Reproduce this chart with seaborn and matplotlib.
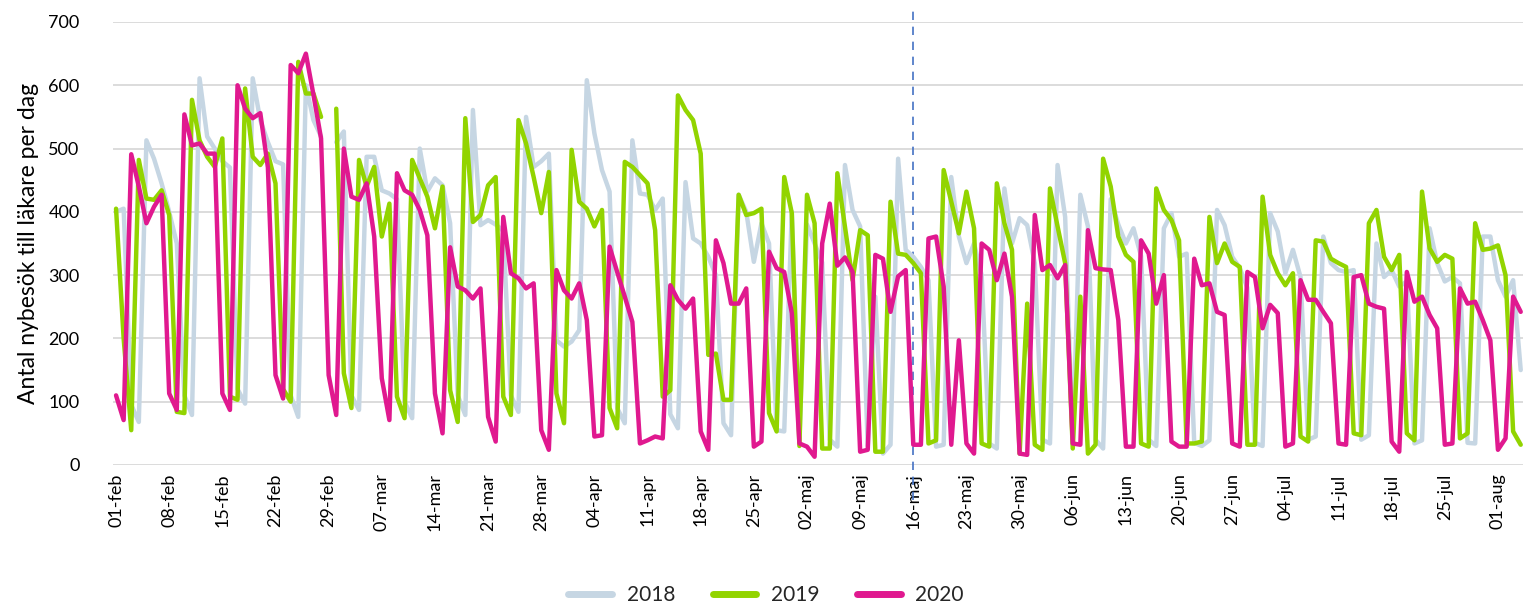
import numpy as np
import pandas as pd
import matplotlib
matplotlib.use("Agg")
import matplotlib.pyplot as plt
import seaborn as sns

# dagliga värden från 01-feb till 03-aug (index 28 = 29-feb, saknas 2018/2019)
v2018 = [400, 405, 95, 68, 513, 484, 445, 400, 350, 110, 79, 611, 519, 500, 480, 470, 120, 97,
         611, 545, 510, 480, 475, 110, 76, 600, 545, 519, np.nan, 510, 527, 110, 87, 487, 487, 434,
         429, 420, 100, 74, 500, 432, 453, 442, 382, 110, 79, 561, 379, 387, 380, 370, 110, 84,
         550, 471, 480, 492, 197, 187, 195, 213, 608, 524, 466, 432, 90, 66, 513, 429, 427, 403,
         421, 80, 58, 447, 358, 350, 329, 300, 66, 47, 427, 400, 321, 382, 350, 55, 53, 400,
         40, 380, 350, 320, 40, 29, 474, 403, 377, 30, 266, 18, 32, 484, 340, 329, 313, 292,
         29, 32, 455, 361, 319, 350, 300, 34, 26, 437, 350, 390, 379, 319, 40, 34, 474, 392,
         34, 427, 377, 40, 26, 420, 380, 350, 374, 330, 40, 30, 374, 398, 329, 334, 35, 30,
         39, 403, 379, 329, 311, 280, 35, 30, 398, 369, 303, 340, 297, 40, 45, 361, 319, 308,
         305, 308, 40, 47, 350, 297, 308, 282, 290, 34, 39, 374, 319, 290, 297, 287, 35, 34,
         361, 361, 292, 266, 292, 150]
v2019 = [405, 200, 55, 482, 421, 419, 434, 395, 84, 82, 577, 513, 487, 471, 516, 108, 103, 595,
         487, 474, 492, 445, 120, 100, 637, 587, 587, 550, np.nan, 563, 145, 90, 482, 440, 471, 361,
         413, 108, 74, 482, 453, 424, 374, 440, 118, 68, 548, 384, 395, 442, 455, 108, 79, 545,
         508, 455, 398, 463, 113, 66, 498, 416, 405, 377, 403, 90, 58, 479, 471, 458, 445, 371,
         108, 118, 584, 561, 545, 492, 174, 176, 103, 103, 427, 395, 398, 405, 82, 53, 455, 398,
         30, 427, 382, 26, 26, 461, 377, 292, 371, 363, 21, 21, 416, 334, 332, 319, 303, 34,
         39, 466, 416, 366, 432, 374, 34, 29, 445, 382, 340, 18, 255, 32, 24, 437, 377, 319,
         26, 266, 18, 32, 484, 440, 361, 332, 321, 34, 29, 437, 403, 387, 355, 34, 34, 37,
         392, 319, 350, 321, 313, 32, 32, 424, 332, 303, 284, 303, 45, 37, 355, 353, 326, 319,
         313, 50, 47, 382, 403, 329, 308, 332, 50, 39, 432, 342, 321, 332, 326, 42, 50, 382,
         340, 342, 347, 300, 53, 32]
v2020 = [110, 71, 491, 440, 382, 408, 427, 113, 87, 554, 505, 508, 492, 492, 113, 87, 600, 563,
         548, 556, 470, 142, 105, 632, 619, 650, 585, 516, 142, 79, 500, 424, 419, 445, 361, 137,
         71, 461, 434, 427, 403, 363, 113, 50, 344, 282, 276, 263, 279, 76, 37, 392, 303, 295,
         279, 287, 55, 24, 308, 276, 263, 287, 229, 45, 47, 345, 305, 266, 226, 34, 39, 45,
         42, 284, 261, 247, 263, 53, 24, 355, 319, 255, 255, 279, 29, 37, 337, 311, 305, 240,
         34, 29, 13, 350, 413, 315, 328, 305, 21, 24, 332, 326, 242, 298, 308, 32, 32, 358,
         361, 282, 32, 197, 34, 18, 350, 340, 292, 334, 266, 18, 16, 395, 308, 316, 295, 316,
         34, 32, 371, 311, 309, 308, 229, 29, 29, 355, 334, 255, 300, 37, 29, 29, 326, 284,
         287, 242, 237, 34, 29, 305, 297, 216, 253, 240, 29, 34, 292, 261, 261, 242, 224, 34,
         32, 297, 300, 255, 250, 247, 37, 21, 305, 258, 266, 237, 216, 32, 34, 279, 255, 258,
         229, 197, 24, 42, 266, 242]

tick_labels = ["01-feb", "08-feb", "15-feb", "22-feb", "29-feb", "07-mar", "14-mar", "21-mar",
               "28-mar", "04-apr", "11-apr", "18-apr", "25-apr", "02-maj", "09-maj", "16-maj",
               "23-maj", "30-maj", "06-jun", "13-jun", "20-jun", "27-jun", "04-jul", "11-jul",
               "18-jul", "25-jul", "01-aug"]
marker_label = "16-maj"

years = ["2018", "2019", "2020"]
colors = {"2018": "#C6D6E3", "2019": "#92D400", "2020": "#E0198F"}

frames = []
for year, vals in zip(years, [v2018, v2019, v2020]):
    d = pd.DataFrame({"dag": np.arange(len(vals)), "antal": vals, "år": year})
    d["del"] = d["antal"].isna().cumsum()   # bryt linjen vid 29-feb där värde saknas
    frames.append(d)
df = pd.concat(frames).dropna()

sns.set_style("white")
plt.rcParams["font.family"] = ["Lato", "DejaVu Sans"]

fig = plt.figure(figsize=(15.23, 6.06), dpi=100)
ax = fig.add_axes([0.0742, 0.2327, 0.9258, 0.731])

sns.lineplot(data=df, x="dag", y="antal", hue="år", units="del", estimator=None,
             hue_order=years, palette=colors, linewidth=3.2, ax=ax)

ax.set_ylim(0, 700)
ax.set_xlim(-0.4, 185.3)
ax.set_yticks(range(0, 701, 100))
ax.yaxis.grid(True, color="#D9D9D9", linewidth=1.3)
ax.xaxis.grid(False)
ax.set_axisbelow(True)
for s in ax.spines.values():
    s.set_visible(False)

tick_pos = np.arange(0, 7 * len(tick_labels), 7)
ax.set_xticks(tick_pos)
ax.set_xticklabels(tick_labels, rotation=90, fontsize=13, color="#000000")
ax.tick_params(axis="y", labelsize=13, labelcolor="#000000", length=0, pad=24)
ax.tick_params(axis="x", length=0, pad=6)
ax.set_xlabel("")
ax.set_ylabel("Antal nybesök till läkare per dag", fontsize=16.5, color="#000000", labelpad=7)

idx = tick_labels.index(marker_label) * 7
ax.axvline(idx, ymin=-0.08, ymax=1.03, color="#4472C4", linestyle=(0, (5, 4)),
           linewidth=1.2, clip_on=False, zorder=1)

sns.move_legend(ax, "lower center", bbox_to_anchor=(0.503, -0.03), bbox_transform=fig.transFigure,
                ncol=3, frameon=False, title=None, fontsize=15, handlelength=2.1,
                columnspacing=1.8, handletextpad=0.7)
for line in ax.get_legend().get_lines():
    line.set_linewidth(5)

fig.savefig("out.png", dpi=100)
